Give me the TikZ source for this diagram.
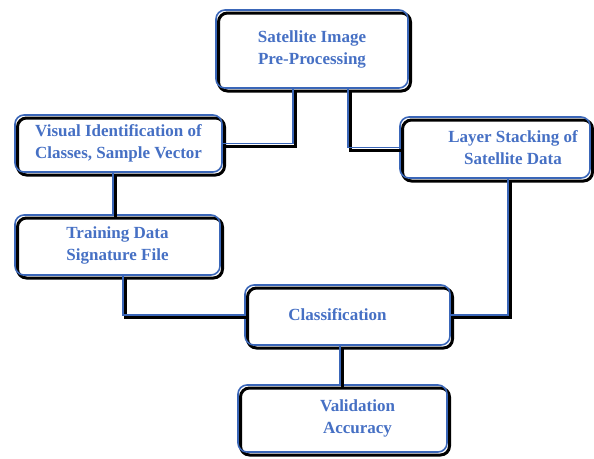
\documentclass[tikz,border=0pt]{standalone}
\usepackage{fontspec}
\setmainfont{Liberation Serif}
\usepackage{xcolor}
\usepackage{tikz}
\usetikzlibrary{shadows}

\definecolor{boxblue}{RGB}{58,102,184}
\definecolor{textblue}{RGB}{70,112,196}

\begin{document}
\begin{tikzpicture}[x=1pt, y=-1pt,
      darkshadow/.style={general shadow={shadow xshift=2.5pt, shadow yshift=-3pt, draw=black, line width=3pt}},
      box/.style={draw=boxblue, line width=1.6pt, rounded corners=9pt, darkshadow,
        align=center, text=textblue, font=\bfseries\fontsize{17}{22}\selectfont},
      link/.style={draw=boxblue, line width=1.6pt,
        general shadow={shadow xshift=2pt, shadow yshift=-2.5pt, draw=black, line width=3pt}}
      ]
      \useasboundingbox (0,0) rectangle (594,458);
      \node[box, minimum width=192pt, minimum height=78pt] (pre) at (312,49)
        {Satellite Image\\Pre-Processing};
      \node[box, minimum width=207pt, minimum height=57pt] (visual) at (118.5,143.5)
        {Visual Identification of\\Classes, Sample Vector};
      \node[box, minimum width=190pt, minimum height=61pt] (layer) at (495,147.5)
        {\hspace*{36pt}Layer Stacking of\\\hspace*{36pt}Satellite Data};
      \node[box, minimum width=205pt, minimum height=60pt] (train) at (117.5,245)
        {Training Data\\Signature File};
      \node[box, minimum width=205pt, minimum height=60pt] (classify) at (347.5,315)
        {Classification\hspace*{20pt}};
      \node[box, minimum width=209pt, minimum height=67pt] (valid) at (342.5,418.5)
        {\hspace*{30pt}Validation\\\hspace*{30pt}Accuracy};

      \draw[link] ([xshift=-19pt]pre.south) |- (visual.east);
      \draw[link] ([xshift=36pt]pre.south) |- (layer.west);
      \draw[link] ([xshift=-5.5pt]visual.south) -- ([xshift=-5.5pt]visual.south |- train.north);
      \draw[link] ([xshift=5.5pt]train.south) |- (classify.west);
      \draw[link] ([xshift=13pt]layer.south) |- (classify.east);
      \draw[link] ([xshift=-7.5pt]classify.south) -- ([xshift=-7.5pt]classify.south |- valid.north);
    \end{tikzpicture}
\end{document}
